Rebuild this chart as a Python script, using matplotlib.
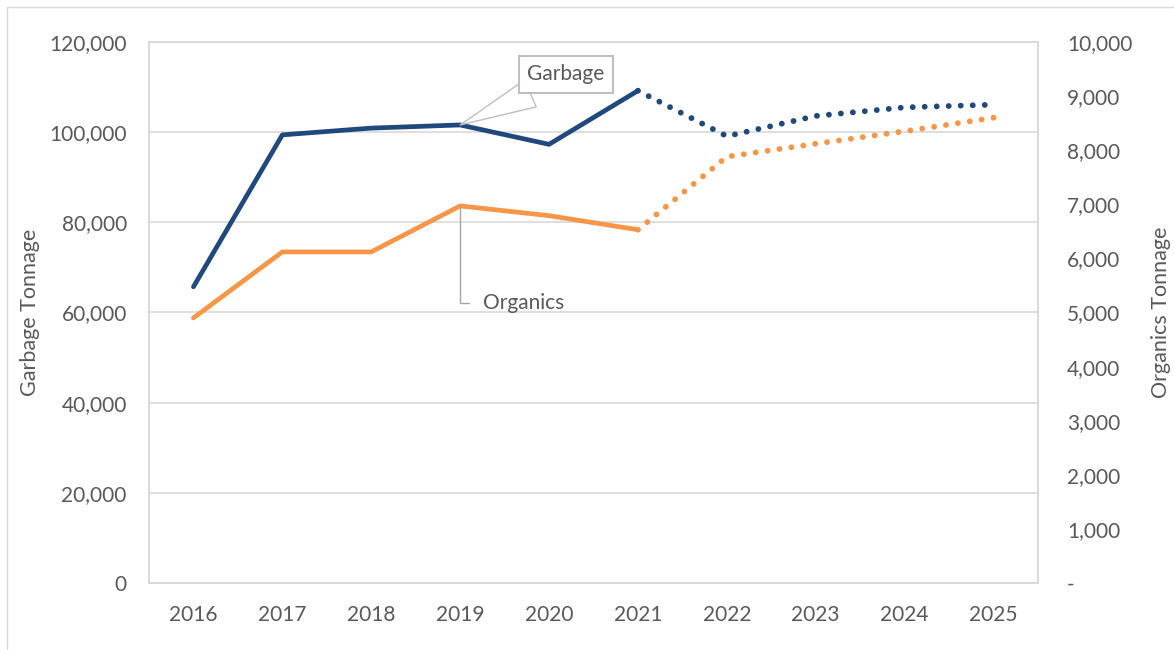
import matplotlib
matplotlib.use('Agg')
import matplotlib.pyplot as plt
from matplotlib.ticker import FuncFormatter, MultipleLocator
from matplotlib.patches import Rectangle

plt.rcParams['font.family'] = ['Lato', 'DejaVu Sans']

years = ['2016', '2017', '2018', '2019', '2020', '2021', '2022', '2023', '2024', '2025']
garbage = [65700, 99400, 100900, 101600, 97300, 109200, 99100, 103600, 105500, 106100]
organics = [4900, 6120, 6120, 6970, 6790, 6530, 7880, 8120, 8350, 8600]
last_actual = 5  # 2021: solid up to here, dotted forecast after

navy = '#1F497D'
orange = '#F79646'
txt = '#595959'
grid = '#D9D9D9'

W, H = 1174, 650
fig = plt.figure(figsize=(W / 100, H / 100), dpi=100)
fig.patches.append(Rectangle((7 / W, -0.1), 1.2, 1 - 7 / H + 0.1, transform=fig.transFigure,
                             fill=False, ec=grid, lw=1))

ax = fig.add_axes([149 / W, 1 - 583 / H, (1038 - 149) / W, (583 - 42) / H])
ax2 = ax.twinx()

lw = 3.4
dlw = 4.2
dots = (0, (0.01, 2.05))
x = list(range(len(years)))
ax.plot(x[:last_actual + 1], garbage[:last_actual + 1], color=navy, lw=lw,
        solid_capstyle='round', solid_joinstyle='round', zorder=3)
ax.plot(x[last_actual:], garbage[last_actual:], color=navy, lw=dlw,
        linestyle=dots, dash_capstyle='round', zorder=3)
ax2.plot(x[:last_actual + 1], organics[:last_actual + 1], color=orange, lw=lw,
         solid_capstyle='round', solid_joinstyle='round', zorder=3)
ax2.plot(x[last_actual:], organics[last_actual:], color=orange, lw=dlw,
         linestyle=dots, dash_capstyle='round', zorder=3)

ax.set_xlim(-0.5, len(years) - 0.5)
ax.set_ylim(0, 120000)
ax2.set_ylim(0, 10000)
ax.yaxis.set_major_locator(MultipleLocator(20000))
ax2.yaxis.set_major_locator(MultipleLocator(1000))
ax.set_xticks(x)
ax.set_xticklabels(years)
ax.yaxis.set_major_formatter(FuncFormatter(lambda v, p: f'{v:,.0f}'))
ax2.yaxis.set_major_formatter(FuncFormatter(lambda v, p: '-' if v == 0 else f'{v:,.0f}'))

ax.grid(axis='y', color=grid, lw=1.2)
ax.set_axisbelow(True)
for a in (ax, ax2):
    for s in a.spines.values():
        s.set_color(grid)
        s.set_linewidth(1.2)
ax.tick_params(axis='both', length=0, labelsize=15, labelcolor=txt)
ax.tick_params(axis='y', pad=16)
ax.tick_params(axis='x', pad=16)
ax2.tick_params(axis='y', length=0, labelsize=15, labelcolor=txt, pad=21)

ax.set_ylabel('Garbage Tonnage', fontsize=15.5, color=txt,
              ha='center', va='center', rotation_mode='anchor')
ax.yaxis.set_label_coords((30 - 149) / 889, 0.5)
ax2.set_ylabel('Organics Tonnage', fontsize=15.5, color=txt, rotation=90,
               ha='center', va='center', rotation_mode='anchor')
ax2.yaxis.set_label_coords((1161 - 149) / 889, 0.5)

ax.annotate('Garbage', xy=(3, garbage[3]), xytext=(4.19, 112800),
            ha='center', va='center', fontsize=15, color=txt,
            bbox=dict(boxstyle='square,pad=0.4', fc='white', ec='#BFBFBF', lw=1.5),
            arrowprops=dict(arrowstyle='wedge,tail_width=1.4', fc='white', ec='#BFBFBF',
                            lw=1, relpos=(0.3, 0), shrinkA=0, shrinkB=0),
            zorder=5)
ax2.annotate('Organics', xy=(3, organics[3]), xytext=(3.26, 5170),
             ha='left', va='center', fontsize=15, color=txt,
             arrowprops=dict(arrowstyle='-', color='#A6A6A6', lw=1,
                             connectionstyle='angle,angleA=180,angleB=90,rad=0',
                             relpos=(0, 0.5), shrinkA=8, shrinkB=0),
             zorder=5)

fig.savefig('out.png', dpi=100)
